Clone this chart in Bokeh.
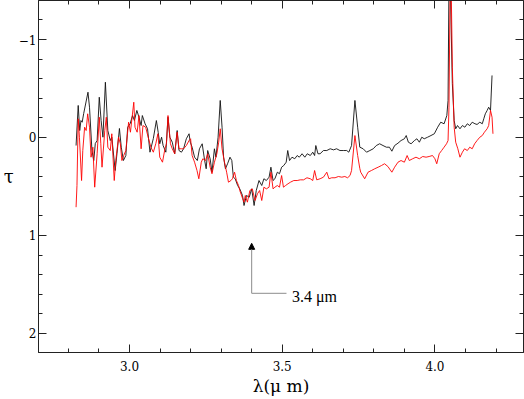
from bokeh.plotting import figure
from bokeh.models import Range1d, FixedTicker, LinearAxis, Arrow, NormalHead, Label
from bokeh.embed import file_html
from bokeh.resources import INLINE

# ---- data (wavelength in micron, optical depth tau) ----
black_wl = [2.825, 2.832, 2.837, 2.841, 2.845, 2.850, 2.864, 2.869, 2.877, 2.883,
            2.888, 2.894, 2.901, 2.907, 2.913, 2.921, 2.929, 2.937, 2.942, 2.953,
            2.959, 2.967, 2.973, 2.980, 2.988, 2.994, 3.002, 3.010, 3.016, 3.024,
            3.031, 3.038, 3.042, 3.051, 3.059, 3.067, 3.078, 3.088, 3.094, 3.099,
            3.105, 3.110, 3.119, 3.126, 3.132, 3.140, 3.148, 3.156, 3.162, 3.170,
            3.177, 3.186, 3.195, 3.199, 3.205, 3.213, 3.222, 3.229, 3.238, 3.246,
            3.251, 3.256, 3.264, 3.270, 3.278, 3.283, 3.290, 3.297, 3.303, 3.308,
            3.314, 3.321, 3.329, 3.335, 3.340, 3.346, 3.354, 3.361, 3.370, 3.375,
            3.383, 3.392, 3.400, 3.408, 3.415, 3.424, 3.433, 3.440, 3.448, 3.457,
            3.463, 3.470, 3.476, 3.484, 3.491, 3.498, 3.505, 3.513, 3.518, 3.524,
            3.532, 3.541, 3.549, 3.556, 3.565, 3.574, 3.582, 3.592, 3.600, 3.606,
            3.610, 3.617, 3.624, 3.635, 3.646, 3.657, 3.668, 3.678, 3.689, 3.700,
            3.711, 3.718, 3.727, 3.738, 3.747, 3.754, 3.765, 3.776, 3.787, 3.798,
            3.808, 3.819, 3.830, 3.841, 3.851, 3.859, 3.868, 3.879, 3.889, 3.900,
            3.906, 3.913, 3.922, 3.933, 3.941, 3.949, 3.957, 3.965, 3.976, 3.987,
            3.998, 4.009, 4.019, 4.030, 4.039, 4.043, 4.046, 4.050, 4.057, 4.063,
            4.068, 4.074, 4.082, 4.090, 4.098, 4.106, 4.114, 4.122, 4.131, 4.138,
            4.147, 4.155, 4.160, 4.165, 4.171, 4.176, 4.182, 4.187]
black_tau = [0.082, -0.327, -0.071, -0.173, -0.156, -0.245, -0.462, -0.309, 0.133, 0.235,
             0.061, 0.031, -0.411, -0.173, -0.003, -0.564, -0.071, 0.031, -0.003, 0.337,
             0.163, -0.092, 0.099, 0.235, 0.184, -0.105, -0.140, -0.224, -0.173, -0.276,
             -0.207, -0.122, -0.224, -0.140, -0.089, 0.150, 0.010, -0.173, -0.051, 0.064,
             -0.003, 0.082, 0.150, -0.207, -0.003, 0.048, 0.166, -0.071, 0.133, 0.150,
             0.115, 0.013, -0.038, 0.048, 0.099, 0.201, 0.235, 0.115, 0.064, 0.235,
             0.319, 0.133, 0.217, 0.354, 0.115, 0.201, -0.003, -0.378, -0.105, 0.201,
             0.319, 0.268, 0.201, 0.235, 0.405, 0.421, 0.490, 0.524, 0.592, 0.694,
             0.592, 0.609, 0.524, 0.694, 0.541, 0.439, 0.490, 0.421, 0.439, 0.405,
             0.303, 0.439, 0.421, 0.354, 0.370, 0.303, 0.286, 0.252, 0.133, 0.235,
             0.201, 0.217, 0.184, 0.201, 0.166, 0.201, 0.166, 0.184, 0.150, 0.184,
             0.082, 0.166, 0.166, 0.133, 0.133, 0.115, 0.126, 0.115, 0.133, 0.133,
             0.133, 0.150, 0.082, -0.378, -0.105, 0.099, 0.115, 0.150, 0.133, 0.115,
             0.082, 0.064, 0.082, 0.099, 0.099, 0.140, 0.082, 0.058, 0.031, 0.013,
             -0.020, 0.048, 0.064, 0.031, 0.013, 0.048, -0.003, 0.013, -0.003, -0.020,
             -0.038, -0.105, -0.156, -0.140, -0.224, -0.378, -1.600, -1.600, -0.551, -0.173,
             -0.089, -0.122, -0.089, -0.122, -0.105, -0.140, -0.122, -0.156, -0.140, -0.133,
             -0.156, -0.140, -0.191, -0.242, -0.276, -0.309, -0.276, -0.633]

red_wl = [2.825, 2.828, 2.832, 2.836, 2.843, 2.847, 2.853, 2.858, 2.863, 2.869,
          2.874, 2.880, 2.886, 2.894, 2.901, 2.906, 2.910, 2.919, 2.924, 2.929,
          2.937, 2.942, 2.950, 2.955, 2.964, 2.970, 2.975, 2.981, 2.988, 2.997,
          3.003, 3.014, 3.018, 3.025, 3.031, 3.038, 3.044, 3.053, 3.061, 3.070,
          3.078, 3.086, 3.093, 3.099, 3.108, 3.116, 3.121, 3.126, 3.134, 3.140,
          3.148, 3.156, 3.162, 3.170, 3.177, 3.186, 3.195, 3.200, 3.205, 3.213,
          3.221, 3.227, 3.235, 3.240, 3.249, 3.256, 3.264, 3.270, 3.278, 3.286,
          3.292, 3.297, 3.303, 3.311, 3.318, 3.324, 3.332, 3.337, 3.344, 3.350,
          3.357, 3.361, 3.370, 3.375, 3.379, 3.386, 3.394, 3.402, 3.411, 3.419,
          3.426, 3.433, 3.440, 3.448, 3.457, 3.463, 3.470, 3.476, 3.484, 3.491,
          3.498, 3.504, 3.511, 3.519, 3.527, 3.538, 3.549, 3.559, 3.570, 3.581,
          3.592, 3.600, 3.606, 3.613, 3.624, 3.635, 3.646, 3.653, 3.662, 3.673,
          3.684, 3.695, 3.705, 3.714, 3.722, 3.727, 3.738, 3.747, 3.754, 3.757,
          3.770, 3.781, 3.792, 3.803, 3.814, 3.825, 3.835, 3.846, 3.859, 3.868,
          3.879, 3.889, 3.900, 3.909, 3.916, 3.927, 3.938, 3.949, 3.960, 3.971,
          3.981, 3.992, 4.000, 4.006, 4.014, 4.022, 4.030, 4.038, 4.043, 4.046,
          4.050, 4.053, 4.057, 4.063, 4.068, 4.075, 4.082, 4.090, 4.097, 4.106,
          4.114, 4.122, 4.130, 4.138, 4.147, 4.155, 4.162, 4.171, 4.176, 4.182,
          4.187, 4.190]
red_tau = [0.711, 0.490, -0.191, -0.003, 0.439, 0.133, -0.105, -0.071, -0.242, -0.105,
           0.201, 0.099, 0.507, 0.166, -0.207, 0.064, 0.303, -0.071, -0.207, 0.099,
           0.133, -0.038, 0.439, 0.235, -0.003, 0.064, 0.235, 0.184, 0.133, -0.156,
           -0.054, -0.360, -0.105, -0.054, -0.224, 0.115, -0.122, -0.105, -0.003, 0.099,
           0.150, 0.064, -0.038, 0.201, 0.252, 0.115, 0.064, -0.224, 0.064, 0.115,
           0.166, -0.054, 0.115, 0.115, 0.115, 0.082, 0.031, 0.013, 0.184, 0.252,
           0.337, 0.421, 0.252, 0.217, 0.235, 0.166, 0.303, 0.370, 0.252, 0.166,
           0.048, -0.089, 0.115, 0.252, 0.354, 0.456, 0.439, 0.421, 0.354, 0.439,
           0.490, 0.541, 0.620, 0.660, 0.592, 0.660, 0.541, 0.524, 0.643, 0.574,
           0.541, 0.643, 0.507, 0.524, 0.507, 0.354, 0.524, 0.507, 0.490, 0.507,
           0.388, 0.507, 0.490, 0.472, 0.456, 0.439, 0.439, 0.432, 0.432, 0.411,
           0.421, 0.439, 0.337, 0.432, 0.421, 0.405, 0.354, 0.421, 0.411, 0.411,
           0.398, 0.405, 0.398, 0.411, 0.388, 0.337, -0.020, 0.184, 0.316, 0.354,
           0.421, 0.354, 0.337, 0.319, 0.303, 0.286, 0.268, 0.296, 0.354, 0.303,
           0.252, 0.235, 0.252, 0.184, 0.235, 0.217, 0.201, 0.217, 0.194, 0.201,
           0.194, 0.184, 0.217, 0.268, 0.166, 0.133, 0.099, 0.064, 0.031, -0.309,
           -1.600, -1.600, -0.717, -0.105, 0.048, 0.115, 0.201, 0.150, 0.115, 0.133,
           0.099, 0.115, 0.064, 0.031, -0.003, -0.020, -0.054, -0.089, -0.122, -0.276,
           -0.207, -0.038]

x_major = [3.0, 3.5, 4.0]
x_minor = [2.8, 2.9, 3.1, 3.2, 3.3, 3.4, 3.6, 3.7, 3.8, 3.9, 4.1, 4.2]
x_labels = {3.0: "3.0", 3.5: "3.5", 4.0: "4.0"}
y_major = [-1, 0, 1, 2]
y_minor = [-1.2, -0.8, -0.6, -0.4, -0.2, 0.2, 0.4, 0.6, 0.8,
           1.2, 1.4, 1.6, 1.8, 2.2]
y_labels = {-1: "\u22121", 0: "0", 1: "1", 2: "2"}

# annotation (3.4 micron feature marker)
feat_x = 3.40
feat_tip = 1.08
feat_base = 1.59
feat_line_end = 3.514
feat_text_x = 3.532
feat_text_y = 1.625
feat_text = "3.4 \u03bcm"

x_title = "\u03bb(\u03bc m)"
y_title = "\u03c4"

SERIF = "DejaVu Serif"

p = figure(width=524, height=399, output_backend="svg", toolbar_location=None,
           x_range=Range1d(2.702, 4.290), y_range=Range1d(2.194, -1.398),
           min_border_left=34, min_border_right=1, min_border_top=0,
           min_border_bottom=47, background_fill_color="white",
           border_fill_color="white")
p.grid.visible = False
p.outline_line_color = "#222222"

p.line(black_wl, black_tau, line_color="#111111", line_width=0.9)
p.line(red_wl, red_tau, line_color="#ff0000", line_width=0.9)


def style_axis(ax, ticks, minor):
    ax.ticker = FixedTicker(ticks=ticks, minor_ticks=minor)
    ax.axis_line_color = "#222222"
    ax.axis_line_width = 1
    ax.major_tick_line_color = "#222222"
    ax.minor_tick_line_color = "#222222"
    ax.major_tick_in = 8
    ax.major_tick_out = 0
    ax.minor_tick_in = 4
    ax.minor_tick_out = 0
    ax.major_label_text_color = "black"
    ax.major_label_text_font = SERIF
    ax.major_label_text_font_size = "12px"


xb = p.xaxis[0]
style_axis(xb, x_major, x_minor)
xb.major_label_standoff = 8
xb.major_label_overrides = x_labels
xb.axis_label = x_title
xb.axis_label_text_font = SERIF
xb.axis_label_text_font_size = "17px"
xb.axis_label_text_font_style = "normal"
xb.axis_label_text_color = "black"
xb.axis_label_standoff = 2

yl = p.yaxis[0]
style_axis(yl, y_major, y_minor)
yl.major_label_standoff = 2
yl.major_label_overrides = y_labels
yl.axis_label = y_title
yl.axis_label_orientation = "horizontal"
yl.axis_label_text_font = SERIF
yl.axis_label_text_font_size = "18px"
yl.axis_label_text_font_style = "normal"
yl.axis_label_text_color = "black"
yl.axis_label_standoff = 2

xt = LinearAxis()
style_axis(xt, x_major, x_minor)
xt.major_label_overrides = {t: "" for t in x_major}
xt.major_label_standoff = 0
p.add_layout(xt, "above")
yr = LinearAxis()
style_axis(yr, y_major, y_minor)
yr.major_label_overrides = {t: "" for t in y_major}
yr.major_label_standoff = 0
p.add_layout(yr, "right")

p.add_layout(Arrow(end=NormalHead(size=6, fill_color="black", line_color="black"),
                   x_start=feat_x, y_start=feat_base, x_end=feat_x, y_end=feat_tip,
                   line_color="#8c8c8c", line_width=1))
p.segment(x0=[feat_x], y0=[feat_base], x1=[feat_line_end], y1=[feat_base],
          line_color="#8c8c8c", line_width=1)
p.add_layout(Label(x=feat_text_x, y=feat_text_y, text=feat_text,
                   text_font="Liberation Serif", text_font_size="16px",
                   text_baseline="middle", text_align="left", text_color="black"))

open("out.html", "w").write(file_html(p, INLINE))
